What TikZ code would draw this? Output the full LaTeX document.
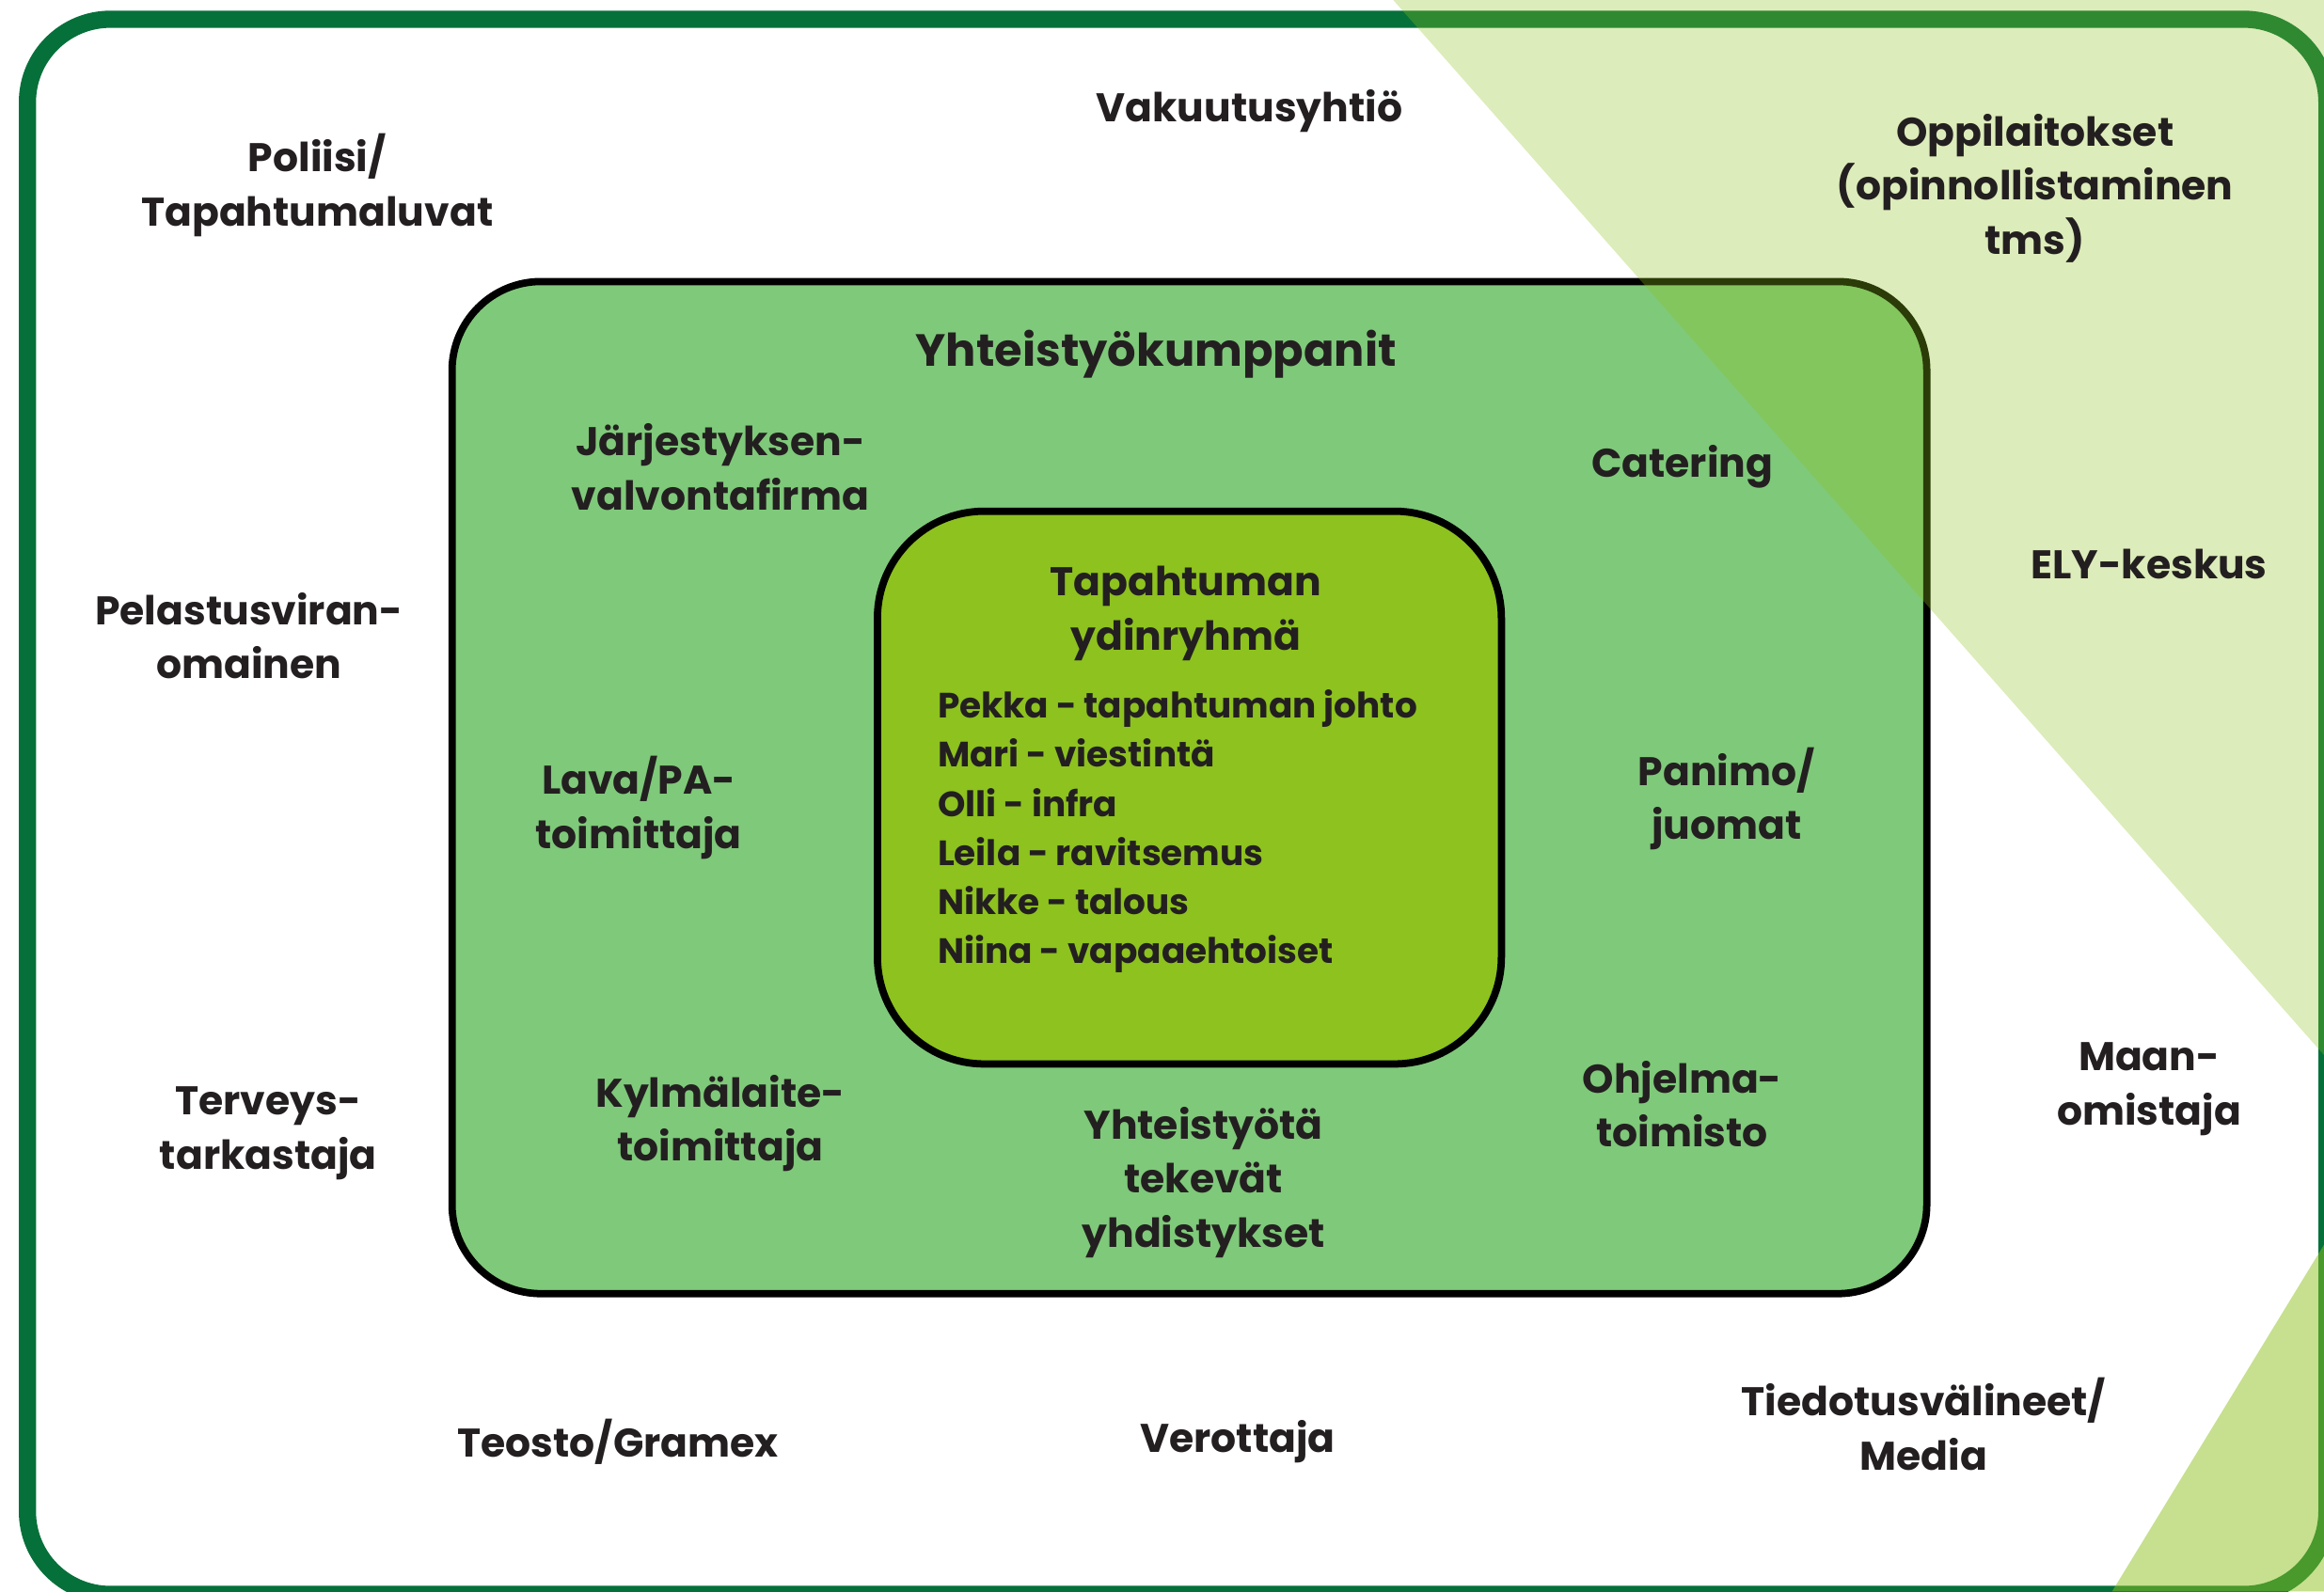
\documentclass[tikz,border=0pt]{standalone}
\usepackage{fontspec}
\setmainfont{Poppins}
\usepackage{tikz}
\usetikzlibrary{positioning}
\definecolor{frame}{RGB}{6,112,58}
\definecolor{partner}{RGB}{127,201,122}
\definecolor{core}{RGB}{141,194,31}
\definecolor{ink}{RGB}{35,31,32}

\begin{document}
\begin{tikzpicture}[x=0.01cm,y=-0.01cm,
  lbl/.style={align=center,font=\bfseries\fontsize{7.67}{10.4}\selectfont,
              text=ink,inner sep=0pt,yshift=-0.03cm},
  ttl/.style={lbl,font=\bfseries\fontsize{8.65}{10.4}\selectfont},
  lst/.style={align=left,font=\bfseries\fontsize{6.75}{9.4}\selectfont,
              text=ink,inner sep=0pt},
  boxline/.style={draw=black,line width=1.4pt}]
\useasboundingbox (0,0) rectangle (1568,1074);
\begin{scope}
\clip (0,0) rectangle (1568,1074);
% outer frame
\draw[frame,line width=3.3pt,rounded corners=0.56cm] (18.5,13) rectangle (1570,1076);
% partners and core group
\draw[boxline,fill=partner,rounded corners=0.6cm] (305,190) rectangle (1300,873);
\draw[boxline,fill=core,rounded corners=0.72cm] (592,345) rectangle (1013,718);
% tinted corners
\fill[core,opacity=0.31] (940,0) -- (1568,0) -- (1568,712) -- cycle;
\fill[core,opacity=0.5] (1425,1074) -- (1568,840) -- (1568,1074) -- cycle;
\end{scope}

\node[lbl] (vak) at (843,72) {Vakuutusyhtiö};
\node[lbl] (pol) at (214,122) {Poliisi/\\Tapahtumaluvat};
\node[lbl] (opp) at (1373,124) {Oppilaitokset\\(opinnollistaminen\\tms)};
\node[ttl] (yht) at (780,236) {Yhteistyökumppanit};
\node[lbl] (jar) at (486,312) {Järjestyksen-\\valvontafirma};
\node[lbl] (cat) at (1135,312) {Catering};
\node[lbl] (ely) at (1450,378) {ELY-keskus};
\node[lbl] (pel) at (168,426) {Pelastusviran-\\omainen};
\node[lbl] (tap) at (800,411) {Tapahtuman\\ydinryhmä};
\node[lst,anchor=north west] (ydin) at (632,465)
  {Pekka - tapahtuman johto\\Mari - viestintä\\Olli - infra\\Leila - ravitsemus\\Nikke - talous\\Niina - vapaaehtoiset};
\node[lbl] (lava) at (431,542) {Lava/PA-\\toimittaja};
\node[lbl] (pan) at (1165,536) {Panimo/\\juomat};
\node[lbl] (ohj) at (1135,742) {Ohjelma-\\toimisto};
\node[lbl] (maan) at (1450,732) {Maan-\\omistaja};
\node[lbl] (ter) at (181,762) {Terveys-\\tarkastaja};
\node[lbl] (kyl) at (486,755) {Kylmälaite-\\toimittaja};
\node[lbl] (yhd) at (812,795) {Yhteistyötä\\tekevät\\yhdistykset};
\node[lbl] (teo) at (417,970) {Teosto/Gramex};
\node[lbl] (ver) at (835,970) {Verottaja};
\node[lbl] (tie) at (1298,958) {Tiedotusvälineet/\\Media};
\end{tikzpicture}
\end{document}
